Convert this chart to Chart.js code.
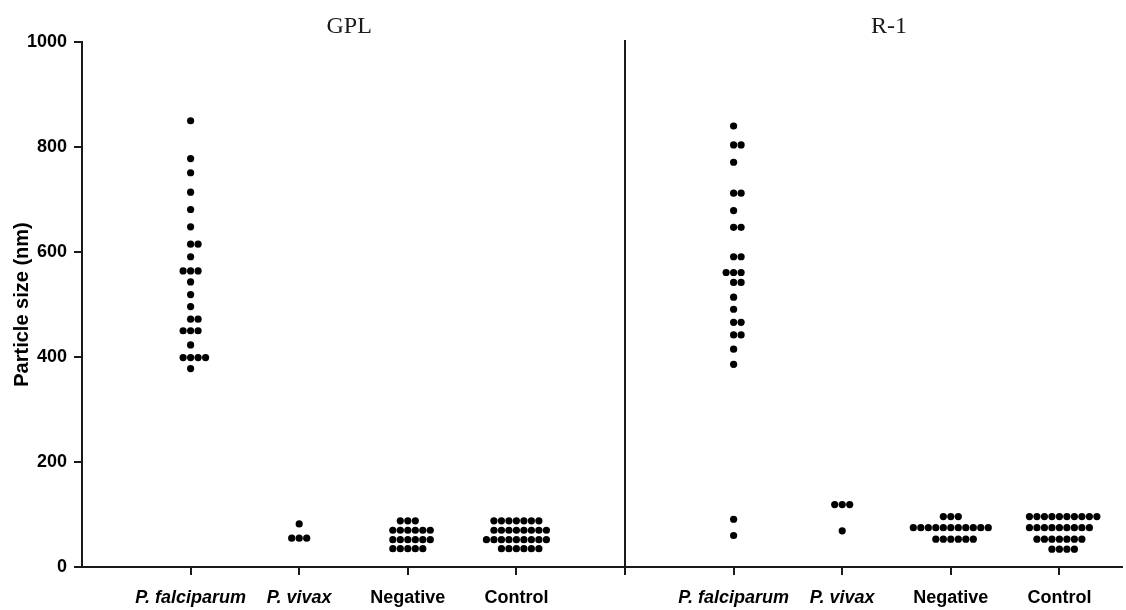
<!DOCTYPE html>
<html>
<head>
<meta charset="utf-8">
<title>Particle size by group</title>
<script src="https://cdn.jsdelivr.net/npm/chart.js@4.4.0/dist/chart.umd.min.js"></script>
<style>
  html, body { margin: 0; padding: 0; background: #fff; }
  #wrap { width: 1126px; height: 610px; }
</style>
</head>
<body>
<div id="wrap"><canvas id="chart"></canvas></div>
<script>
// Categories, repeated in each panel
const categories = ["P. falciparum", "P. vivax", "Negative", "Control"];
const panels = ["GPL", "R-1"];
const yTicks = [0, 200, 400, 600, 800, 1000];

// Particle sizes (nm). Equal values sit side by side.
const gplFalciparum = [850, 778, 751, 714, 681, 648, 615, 615, 591, 564, 564, 564, 543,
  519, 496, 472, 472, 450, 450, 450, 423, 399, 399, 399, 399, 378];
const gplVivax = [82, 55, 55, 55];
const gplNegative = [88, 88, 88, 70, 70, 70, 70, 70, 70, 52, 52, 52, 52, 52, 52,
  35, 35, 35, 35, 35];
const gplControl = [88, 88, 88, 88, 88, 88, 88, 70, 70, 70, 70, 70, 70, 70, 70,
  52, 52, 52, 52, 52, 52, 52, 52, 52, 35, 35, 35, 35, 35, 35];

const r1Falciparum = [840, 804, 804, 771, 712, 712, 679, 647, 647, 591, 591, 561, 561, 561,
  542, 542, 514, 491, 466, 466, 442, 442, 415, 386, 91, 60];
const r1Vivax = [119, 119, 119, 69];
const r1Negative = [96, 96, 96, 75, 75, 75, 75, 75, 75, 75, 75, 75, 75, 75,
  53, 53, 53, 53, 53, 53];
const r1Control = [96, 96, 96, 96, 96, 96, 96, 96, 96, 96, 75, 75, 75, 75, 75, 75, 75, 75, 75,
  53, 53, 53, 53, 53, 53, 53, 34, 34, 34, 34];

const groups = [gplFalciparum, gplVivax, gplNegative, gplControl,
  r1Falciparum, r1Vivax, r1Negative, r1Control];

// x positions: GPL groups at 1-4, divider at 5, R-1 groups at 6-9
const dotStep = 0.069; // gap between dots sharing a value, in x units
const sans = "'Liberation Sans', Arial, sans-serif";

function groupPosition(i) {
  return i < 4 ? i + 1 : i + 2;
}

function dotRows(values, centre) {
  const counts = {};
  values.forEach(function (v) {
    counts[v] = (counts[v] || 0) + 1;
  });
  const pts = [];
  Object.keys(counts).forEach(function (k) {
    const n = counts[k];
    const shift = Math.floor((n - 1) / 2);
    for (let i = 0; i < n; i++) {
      pts.push({ x: centre + (i - shift) * dotStep, y: Number(k) });
    }
  });
  return pts;
}

function categoryFor(value) {
  if (value >= 1 && value <= 4) return value - 1;
  if (value >= 6 && value <= 9) return value - 6;
  return -1;
}

// Panel titles and the divider between the two panels
const panelPlugin = {
  id: "panels",
  afterDraw: function (chart) {
    const ctx = chart.ctx;
    const x = chart.scales.x;
    const divX = x.getPixelForValue(5);
    ctx.save();
    ctx.strokeStyle = "#1a1a1a";
    ctx.lineWidth = 2;
    ctx.beginPath();
    ctx.moveTo(divX, 40);
    ctx.lineTo(divX, chart.chartArea.bottom + 8);
    ctx.stroke();

    ctx.fillStyle = "#1a1a1a";
    ctx.font = "24px 'Liberation Serif', 'Times New Roman', serif";
    ctx.textAlign = "center";
    ctx.textBaseline = "middle";
    ctx.fillText(panels[0], x.getPixelForValue(2.46), 27);
    ctx.fillText(panels[1], x.getPixelForValue(7.43), 27);
    ctx.restore();
  },
};

const datasets = groups.map(function (values, i) {
  return {
    label: (i < 4 ? panels[0] : panels[1]) + " " + categories[i % 4],
    data: dotRows(values, groupPosition(i)),
    backgroundColor: "#000",
    borderColor: "#000",
    borderWidth: 0,
    pointRadius: 3.6,
    pointHoverRadius: 3.6,
    showLine: false,
  };
});

new Chart(document.getElementById("chart"), {
  type: "scatter",
  data: { datasets: datasets },
  options: {
    responsive: true,
    maintainAspectRatio: false,
    devicePixelRatio: 1,
    animation: false,
    layout: { padding: { top: 42, right: 0, bottom: 0, left: 0 } },
    plugins: {
      legend: { display: false },
      tooltip: { enabled: false },
    },
    scales: {
      x: {
        type: "linear",
        min: 0,
        max: 9.58,
        afterBuildTicks: function (scale) {
          scale.ticks = [1, 2, 3, 4, 5, 6, 7, 8, 9].map(function (v) {
            return { value: v };
          });
        },
        afterFit: function (scale) {
          scale.height = 43;
        },
        grid: {
          display: true,
          drawOnChartArea: false,
          drawTicks: true,
          tickLength: 8,
          color: "#1a1a1a",
          lineWidth: 2,
        },
        border: { display: true, color: "#1a1a1a", width: 2 },
        ticks: {
          autoSkip: false,
          maxRotation: 0,
          padding: 12,
          color: "#000",
          font: function (c) {
            const idx = c.tick ? categoryFor(c.tick.value) : -1;
            return {
              family: sans,
              size: 18,
              weight: "bold",
              style: idx === 0 || idx === 1 ? "italic" : "normal",
            };
          },
          callback: function (value) {
            const idx = categoryFor(value);
            return idx < 0 ? "" : categories[idx];
          },
        },
      },
      y: {
        min: 0,
        max: 1000,
        afterBuildTicks: function (scale) {
          scale.ticks = yTicks.map(function (v) {
            return { value: v };
          });
        },
        afterFit: function (scale) {
          scale.width = 82;
        },
        grid: {
          display: true,
          drawOnChartArea: false,
          drawTicks: true,
          tickLength: 8,
          color: "#1a1a1a",
          lineWidth: 2,
        },
        border: { display: true, color: "#1a1a1a", width: 2 },
        ticks: {
          padding: 7,
          color: "#000",
          font: { family: sans, size: 18, weight: "bold" },
          callback: function (value) {
            return String(value);
          },
        },
        title: {
          display: true,
          text: "Particle size (nm)",
          color: "#000",
          font: { family: sans, size: 20, weight: "bold" },
          padding: { top: 10, bottom: 0 },
        },
      },
    },
  },
  plugins: [panelPlugin],
});
</script>
</body>
</html>
